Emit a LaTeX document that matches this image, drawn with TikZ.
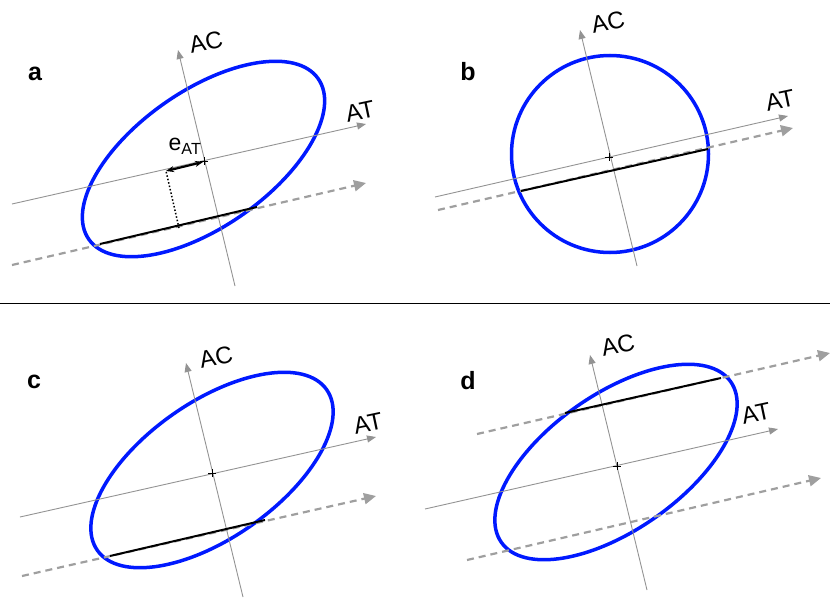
\documentclass[tikz,border=0pt]{standalone}
\usepackage{fontspec}
\setmainfont{Liberation Sans}
\usetikzlibrary{arrows.meta}

\begin{document}
\begin{tikzpicture}[x=1pt,y=1pt,
        axis/.style={draw=gray!85,line width=0.9pt,-{Triangle[length=9pt,width=7pt]}},
        offline/.style={draw=gray!75,line width=2.2pt,dash pattern=on 7pt off 5pt,-{Triangle[length=12pt,width=11pt]}},
        chord/.style={draw=black,line width=2pt},
        field/.style={draw=blue!90!cyan,line width=3.5pt},
        axlabel/.style={font=\fontsize{24}{24}\selectfont,rotate=12,inner sep=0pt},
        panel/.style={font=\fontsize{25}{25}\selectfont\bfseries}]
    \useasboundingbox (0,0) rectangle (830,-602);

    % separator
    \draw[line width=0.9pt] (0,-303) -- (830,-303);

    % panel a
    \node[panel] (la) at (35,-74) {a};
    \coordinate (atA0) at (12,-204);  \coordinate (atA1) at (366,-124);
    \coordinate (acA0) at (235,-286); \coordinate (acA1) at (178,-50);
    \coordinate (shA0) at (12,-265);  \coordinate (shA1) at (366,-183);
    \coordinate (chA0) at (100,-244); \coordinate (chA1) at (257,-207);
    \coordinate (eA0) at (166,-171);  \coordinate (eA1) at (203,-162);
    \coordinate (mA) at (179,-228);
    \draw[field] (203.5,-159) ellipse [x radius=140,y radius=68,rotate=35];
    \path[axis] (atA0) -- (atA1);
    \path[axis] (acA0) -- (acA1);
    \path[offline] (shA0) -- (shA1);
    \draw[chord] (chA0) -- (chA1);
    \draw[line width=1.5pt,dotted] (mA) -- (eA0);
    \draw[line width=2.2pt,{Stealth[length=8pt]}-{Stealth[length=8pt]}] (eA0) -- (eA1);
    \draw (204,-157) -- (204,-165) (200,-161) -- (208,-161);
    \node[font=\fontsize{23}{23}\selectfont] (eat) at (185,-146) {e\textsubscript{AT}};
    \node[axlabel] (acA) at (206,-42) {AC};
    \node[axlabel] (atA) at (360,-111) {AT};

    % panel b
    \node[panel] (lb) at (468,-72) {b};
    \coordinate (atB0) at (435,-197); \coordinate (atB1) at (788,-116);
    \coordinate (acB0) at (637,-266); \coordinate (acB1) at (580,-30);
    \coordinate (shB0) at (438,-210); \coordinate (shB1) at (793,-128);
    \coordinate (chB0) at (521,-191); \coordinate (chB1) at (708,-149);
    \draw[field] (610,-154) circle [radius=98.5];
    \path[axis] (atB0) -- (atB1);
    \path[axis] (acB0) -- (acB1);
    \path[offline] (shB0) -- (shB1);
    \draw[chord] (chB0) -- (chB1);
    \draw (609,-153) -- (609,-161) (605,-157) -- (613,-157);
    \node[axlabel] (acB) at (608,-22) {AC};
    \node[axlabel] (atB) at (780,-100) {AT};

    % panel c
    \node[panel] (lc) at (34,-382) {c};
    \coordinate (atC0) at (20,-517);  \coordinate (atC1) at (376,-437);
    \coordinate (acC0) at (243,-597); \coordinate (acC1) at (186,-363);
    \coordinate (shC0) at (22,-576);  \coordinate (shC1) at (376,-496);
    \coordinate (chC0) at (110,-556); \coordinate (chC1) at (265,-520);
    \draw[field] (212,-470) ellipse [x radius=140,y radius=68,rotate=35];
    \path[axis] (atC0) -- (atC1);
    \path[axis] (acC0) -- (acC1);
    \path[offline] (shC0) -- (shC1);
    \draw[chord] (chC0) -- (chC1);
    \draw (212,-469) -- (212,-477) (208,-473) -- (216,-473);
    \node[axlabel] (acC) at (216,-357) {AC};
    \node[axlabel] (atC) at (368,-423) {AT};

    % panel d
    \node[panel] (ld) at (468,-381) {d};
    \coordinate (atD0) at (425,-509); \coordinate (atD1) at (778,-429);
    \coordinate (acD0) at (647,-590); \coordinate (acD1) at (590,-355);
    \coordinate (shD0) at (477,-434); \coordinate (shD1) at (830,-353);
    \coordinate (sdD0) at (467,-560); \coordinate (sdD1) at (821,-478);
    \coordinate (chD0) at (565,-413); \coordinate (chD1) at (721,-378);
    \draw[field] (616,-462) ellipse [x radius=140,y radius=68,rotate=35];
    \path[axis] (atD0) -- (atD1);
    \path[axis] (acD0) -- (acD1);
    \path[offline] (shD0) -- (shD1);
    \path[offline] (sdD0) -- (sdD1);
    \draw[chord] (chD0) -- (chD1);
    \draw (617,-462) -- (617,-470) (613,-466) -- (621,-466);
    \node[axlabel] (acD) at (618,-345) {AC};
    \node[axlabel] (atD) at (756,-413) {AT};
\end{tikzpicture}
\end{document}
